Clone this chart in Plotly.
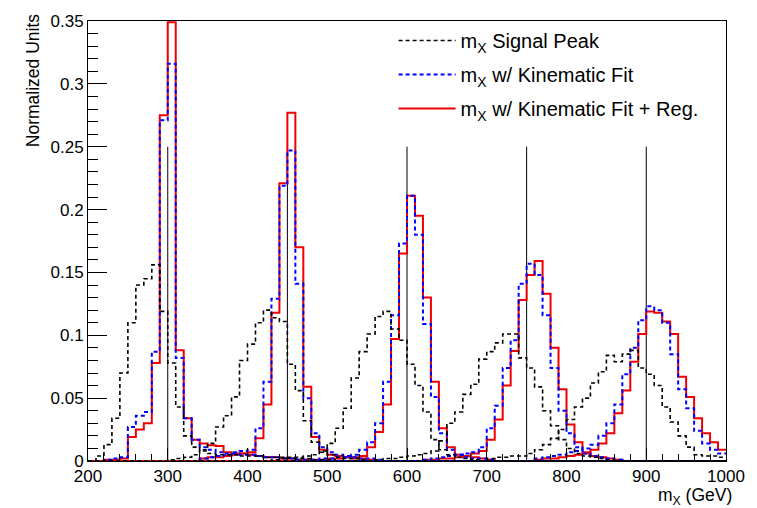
import plotly.graph_objects as go

# ---------------- data ----------------
BIN_LO, BIN_HI, BIN_W = 200, 1000, 10
mass_points = [300, 450, 600, 750, 900]
mass_line_height = [0.25, 0.25, 0.25, 0.25, 0.25]

y_ticks = [0, 0.05, 0.1, 0.15, 0.2, 0.25, 0.3, 0.35]
y_tick_text = ["0", "0.05", "0.1", "0.15", "0.2", "0.25", "0.3", "0.35"]
x_ticks = [200, 300, 400, 500, 600, 700, 800, 900, 1000]
x_tick_text = ["200", "300", "400", "500", "600", "700", "800", "900", "1000"]

# m_X Signal Peak (black dashed): first bin low edge + bin contents
sig_300_start = 200
sig_300 = [0.000, 0.004, 0.013, 0.034, 0.070, 0.110, 0.140, 0.145, 0.156, 0.119,
           0.078, 0.043, 0.020, 0.011, 0.008, 0.006, 0.005, 0.005, 0.005, 0.004,
           0.004, 0.004, 0.003, 0.003, 0.003, 0.002, 0.002, 0.002, 0.001, 0.001, 0.001]
sig_450_start = 300
sig_450 = [0.001, 0.002, 0.003, 0.005, 0.009, 0.014, 0.027, 0.036, 0.051, 0.080,
           0.093, 0.110, 0.120, 0.114, 0.111, 0.077, 0.056, 0.032, 0.015, 0.007,
           0.005, 0.003, 0.002, 0.002, 0.001]
sig_600_start = 430
sig_600 = [0.001, 0.002, 0.003, 0.003, 0.004, 0.005, 0.008, 0.014, 0.026, 0.042,
           0.066, 0.087, 0.101, 0.115, 0.119, 0.105, 0.096, 0.077, 0.060, 0.039,
           0.017, 0.009, 0.005, 0.003, 0.002, 0.001]
sig_750_start = 560
sig_750 = [0.001, 0.002, 0.002, 0.003, 0.004, 0.005, 0.006, 0.008, 0.016, 0.030,
           0.039, 0.053, 0.061, 0.081, 0.087, 0.094, 0.101, 0.101, 0.082, 0.074,
           0.059, 0.040, 0.028, 0.017, 0.010, 0.006, 0.004, 0.003, 0.002, 0.001]
sig_900_start = 700
sig_900 = [0.002, 0.003, 0.003, 0.004, 0.004, 0.006, 0.009, 0.013, 0.018, 0.025,
           0.033, 0.043, 0.050, 0.062, 0.071, 0.084, 0.079, 0.085, 0.088, 0.074,
           0.069, 0.060, 0.043, 0.031, 0.020, 0.011, 0.005, 0.004, 0.004, 0.003]

# m_X w/ Kinematic Fit (blue dashed)
kf_300_start = 220
kf_300 = [0.001, 0.002, 0.003, 0.027, 0.036, 0.039, 0.087, 0.271, 0.316, 0.082,
          0.034, 0.017, 0.011, 0.009, 0.007, 0.006, 0.006, 0.005, 0.005, 0.004,
          0.003, 0.003, 0.002, 0.002, 0.001, 0.001]
kf_450_start = 340
kf_450 = [0.002, 0.003, 0.004, 0.005, 0.007, 0.008, 0.009, 0.026, 0.063, 0.129,
          0.219, 0.247, 0.141, 0.050, 0.022, 0.011, 0.007, 0.005, 0.004, 0.003,
          0.002, 0.002, 0.001]
kf_600_start = 480
kf_600 = [0.001, 0.002, 0.002, 0.003, 0.003, 0.005, 0.009, 0.015, 0.030, 0.063,
          0.116, 0.173, 0.211, 0.180, 0.109, 0.051, 0.022, 0.009, 0.005, 0.003,
          0.002, 0.002, 0.001]
kf_750_start = 620
kf_750 = [0.001, 0.002, 0.003, 0.004, 0.005, 0.006, 0.007, 0.011, 0.026, 0.044,
          0.074, 0.096, 0.141, 0.157, 0.148, 0.116, 0.074, 0.040, 0.022, 0.011,
          0.006, 0.004, 0.003, 0.002, 0.001]
kf_900_start = 760
kf_900 = [0.002, 0.003, 0.004, 0.005, 0.007, 0.008, 0.010, 0.013, 0.020, 0.030,
          0.045, 0.069, 0.090, 0.112, 0.123, 0.120, 0.110, 0.085, 0.057, 0.042,
          0.024, 0.014, 0.009, 0.006]

# m_X w/ Kinematic Fit + Reg. (red solid)
reg_300_start = 220
reg_300 = [0.001, 0.001, 0.002, 0.019, 0.025, 0.030, 0.078, 0.275, 0.349, 0.088,
           0.034, 0.017, 0.014, 0.0125, 0.012, 0.007, 0.006, 0.006, 0.005, 0.004,
           0.003, 0.003, 0.002, 0.002, 0.001, 0.001]
reg_450_start = 340
reg_450 = [0.002, 0.003, 0.003, 0.004, 0.005, 0.006, 0.007, 0.018, 0.045, 0.118,
           0.221, 0.277, 0.170, 0.059, 0.019, 0.009, 0.005, 0.004, 0.003, 0.002,
           0.002, 0.001]
reg_600_start = 480
reg_600 = [0.001, 0.001, 0.002, 0.002, 0.003, 0.003, 0.004, 0.011, 0.023, 0.045,
           0.097, 0.165, 0.211, 0.195, 0.130, 0.063, 0.026, 0.011, 0.005, 0.004,
           0.003, 0.002, 0.001]
reg_750_start = 620
reg_750 = [0.001, 0.001, 0.002, 0.002, 0.003, 0.004, 0.006, 0.008, 0.017, 0.033,
           0.060, 0.0875, 0.128, 0.148, 0.159, 0.133, 0.090, 0.057, 0.029, 0.015,
           0.007, 0.004, 0.003, 0.002, 0.001]
reg_900_start = 760
reg_900 = [0.001, 0.002, 0.002, 0.003, 0.004, 0.005, 0.006, 0.009, 0.014, 0.022,
           0.038, 0.056, 0.079, 0.101, 0.119, 0.118, 0.111, 0.101, 0.067, 0.051,
           0.034, 0.022, 0.015, 0.009]

# ---------------- helpers ----------------
n_bins = (BIN_HI - BIN_LO) // BIN_W
edges = [BIN_LO + i * BIN_W for i in range(n_bins + 1)]


def full_hist(start, vals):
    h = [0.0] * n_bins
    i0 = (start - BIN_LO) // BIN_W
    for k, v in enumerate(vals):
        if 0 <= i0 + k < n_bins:
            h[i0 + k] = v
    return h


FONT = "Liberation Sans, Arial, Helvetica, sans-serif"

series = [
    # (name, color, dash, width, rank, histograms)
    ("m<sub>X</sub> w/ Kinematic Fit + Reg.", "#f00000", "solid", 2, 3,
     [(reg_300_start, reg_300), (reg_450_start, reg_450), (reg_600_start, reg_600),
      (reg_750_start, reg_750), (reg_900_start, reg_900)]),
    ("m<sub>X</sub> w/ Kinematic Fit", "#0000ff", "4px,3px", 2, 2,
     [(kf_300_start, kf_300), (kf_450_start, kf_450), (kf_600_start, kf_600),
      (kf_750_start, kf_750), (kf_900_start, kf_900)]),
    ("m<sub>X</sub> Signal Peak", "#000000", "4px,3px", 1.6, 1,
     [(sig_300_start, sig_300), (sig_450_start, sig_450), (sig_600_start, sig_600),
      (sig_750_start, sig_750), (sig_900_start, sig_900)]),
]

fig = go.Figure()

# vertical mass reference lines
vx, vy = [], []
for m, h in zip(mass_points, mass_line_height):
    vx += [m, m, None]
    vy += [0, h, None]
fig.add_trace(go.Scatter(x=vx, y=vy, mode="lines", showlegend=False,
                         line=dict(color="black", width=1), hoverinfo="skip"))

for name, color, dash, width, rank, hists in series:
    for j, (st, vals) in enumerate(hists):
        h = full_hist(st, vals)
        fig.add_trace(go.Scatter(
            x=edges, y=h + [h[-1]], mode="lines", line_shape="hv",
            line=dict(color=color, width=width, dash=dash),
            name=name, legendgroup=name, legendrank=rank,
            showlegend=(j == 0), hoverinfo="skip"))

fig.update_layout(
    width=757, height=508,
    margin=dict(l=88, r=25, t=17, b=47),
    paper_bgcolor="white", plot_bgcolor="white",
    font=dict(family=FONT, size=17, color="black"),
    showlegend=True,
    legend=dict(x=0.479, y=1.0, xanchor="left", yanchor="top",
                bgcolor="rgba(0,0,0,0)", borderwidth=0,
                font=dict(family=FONT, size=20, color="black"),
                itemwidth=57, tracegroupgap=5),
    xaxis=dict(range=[BIN_LO, BIN_HI], showgrid=False, zeroline=False,
               showline=True, linecolor="black", linewidth=1, mirror=True,
               ticks="inside", ticklen=13, tickcolor="black",
               tickvals=x_ticks, ticktext=x_tick_text,
               minor=dict(ticks="inside", ticklen=7, dtick=20, tickcolor="black"),
               tickfont=dict(family=FONT, size=17)),
    yaxis=dict(range=[0, 0.35], showgrid=False, zeroline=False,
               showline=True, linecolor="black", linewidth=1, mirror=True,
               ticks="inside", ticklen=19, tickcolor="black",
               tickvals=y_ticks, ticktext=y_tick_text,
               minor=dict(ticks="inside", ticklen=10, dtick=0.01, tickcolor="black"),
               tickfont=dict(family=FONT, size=17)),
    annotations=[
        dict(text="Normalized Units", textangle=-90, xref="paper", yref="paper",
             x=-0.087, y=1.02, xanchor="center", yanchor="top", showarrow=False,
             font=dict(family=FONT, size=17.5)),
        dict(text="m<sub>X</sub> (GeV)", xref="paper", yref="paper",
             x=1.013, y=-0.08, xanchor="right", yanchor="middle", showarrow=False,
             font=dict(family=FONT, size=17.5)),
    ],
)

fig.write_html("out.html")
